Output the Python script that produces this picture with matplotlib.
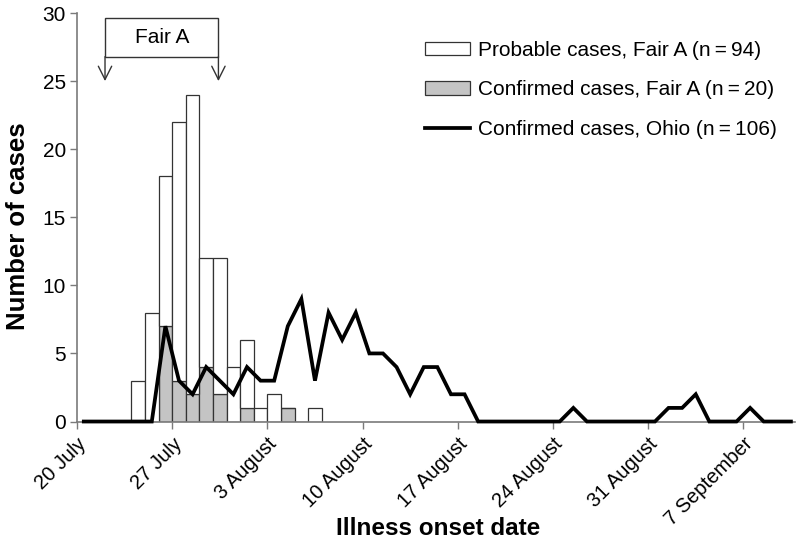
import matplotlib
matplotlib.use("Agg")
import matplotlib.pyplot as plt
from matplotlib.patches import Rectangle

plt.rcParams['font.family'] = ['Liberation Sans', 'DejaVu Sans']

# Days counted from 20 July
bar_days = [4, 5, 6, 7, 8, 9, 10, 11, 12, 13, 14, 15, 16, 17]
probable_fairA = [3, 8, 11, 19, 22, 8, 10, 4, 5, 1, 2, 0, 0, 1]
confirmed_fairA = [0, 0, 7, 3, 2, 4, 2, 0, 1, 0, 0, 1, 0, 0]

ohio_days = list(range(0, 53))
ohio_confirmed = [0, 0, 0, 0, 0, 0, 7, 3, 2, 4, 3, 2, 4, 3, 3, 7, 9, 3, 8, 6,
                  8, 5, 5, 4, 2, 4, 4, 2, 2, 0, 0, 0, 0, 0, 0, 0, 1, 0, 0, 0,
                  0, 0, 0, 1, 1, 2, 0, 0, 0, 1, 0, 0, 0]

tick_days = [0, 7, 14, 21, 28, 35, 42, 49]
tick_labels = ['20 July', '27 July', '3 August', '10 August', '17 August',
               '24 August', '31 August', '7 September']

fair_start, fair_end = 2.06, 10.4

fig = plt.figure(figsize=(8, 5.47), dpi=100)
ax = fig.add_axes([0.09625, 0.2294, 0.8975, 0.7468])

axc = '#7a7a7a'
conf_bars = ax.bar(bar_days, confirmed_fairA, width=1.0, align='edge', color='#c4c4c4',
                   edgecolor='#333333', linewidth=0.9, zorder=2)
prob_bars = ax.bar(bar_days, probable_fairA, width=1.0, align='edge', bottom=confirmed_fairA,
                   color='white', edgecolor='#333333', linewidth=0.9, zorder=2)
ohio_line, = ax.plot([d + 0.5 for d in ohio_days], ohio_confirmed, color='black', lw=2.7,
                     zorder=3, solid_joinstyle='miter', clip_on=False)

ax.set_xlim(0, 52.8)
ax.set_ylim(0, 30)
ax.set_yticks([0, 5, 10, 15, 20, 25, 30])
ax.set_xticks(tick_days)
ax.set_xticklabels(tick_labels, rotation=45, ha='right', rotation_mode='anchor')
ax.tick_params(axis='both', color=axc, length=5, width=1)
ax.tick_params(axis='x', labelsize=14.5, pad=4)
ax.tick_params(axis='y', labelsize=15, pad=3)
for s in ['top', 'right']:
    ax.spines[s].set_visible(False)
for s in ['left', 'bottom']:
    ax.spines[s].set_color(axc)
    ax.spines[s].set_linewidth(1.2)

ax.set_ylabel('Number of cases', fontsize=18.5, fontweight='bold')
ax.set_xlabel('Illness onset date', fontsize=17.5, fontweight='bold')
ax.yaxis.set_label_coords((18 - 77) / 718, (421.5 - 226) / 408.5)
ax.xaxis.set_label_coords((438 - 77) / 718, (421.5 - 528) / 408.5)
ax.yaxis.label.set_va('center')
ax.xaxis.label.set_va('center')

# Fair A box and arrows
ax.add_patch(Rectangle((fair_start, 26.8), fair_end - fair_start, 2.8, fill=False,
                       edgecolor='#333333', lw=1.0, clip_on=False))
ax.text((fair_start + fair_end) / 2, 28.2, 'Fair A', ha='center', va='center',
        fontsize=15)
for xv in (fair_start, fair_end):
    ax.annotate('', xy=(xv, 25.0), xytext=(xv, 26.8),
                arrowprops=dict(arrowstyle='->', color='#333333', lw=1.0,
                                mutation_scale=24, shrinkA=0, shrinkB=0))

ax.legend([prob_bars, conf_bars, ohio_line],
          ['Probable cases, Fair A (n\u2009=\u200994)',
           'Confirmed cases, Fair A (n\u2009=\u200920)',
           'Confirmed cases, Ohio (n\u2009=\u2009106)'],
          frameon=False, loc='upper left', bbox_to_anchor=(425 / 800, 1 - 41 / 547),
          bbox_transform=fig.transFigure, fontsize=15, borderpad=0,
          borderaxespad=0, handlelength=2.15, handleheight=0.6,
          handletextpad=0.4, labelspacing=0.98)

fig.savefig('out.png', dpi=100)
